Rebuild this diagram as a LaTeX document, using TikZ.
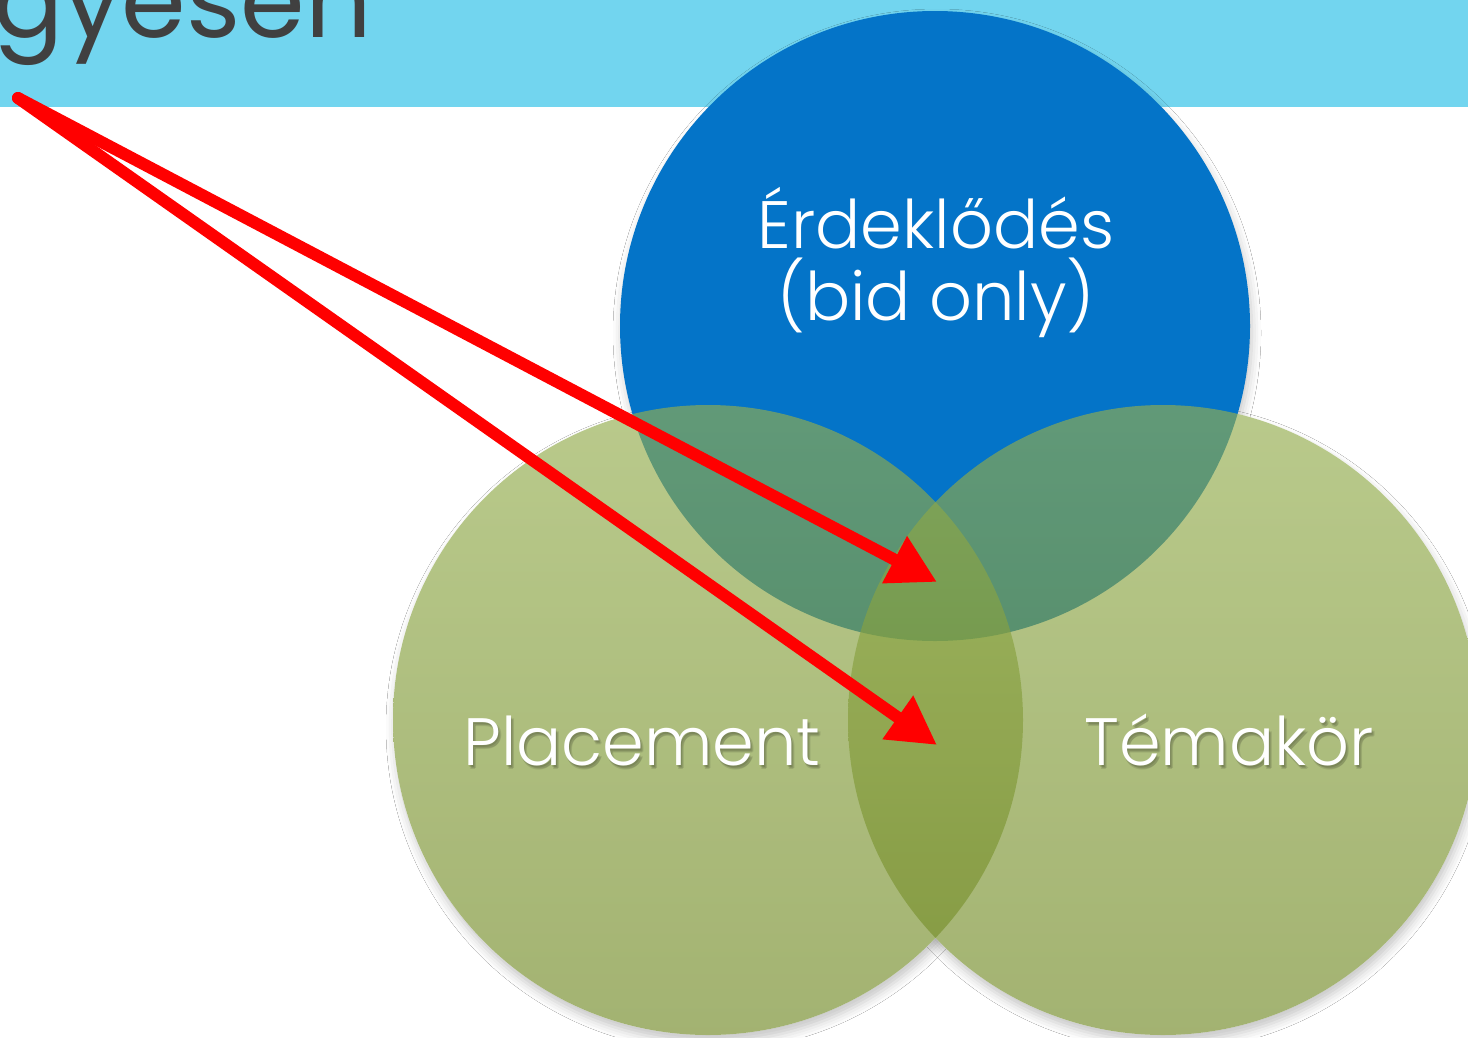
\documentclass[tikz,border=0pt]{standalone}
\usepackage{fontspec}
\setmainfont{Poppins}[UprightFont=* Light]
\newfontfamily\headfont{Poppins}
\usetikzlibrary{arrows.meta,shadows.blur,calc}

\definecolor{band}{RGB}{114,213,239}
\definecolor{headgray}{RGB}{64,64,64}
\definecolor{bluec}{RGB}{4,116,200}
\definecolor{greentop}{RGB}{148,174,78}
\definecolor{greenbot}{RGB}{114,138,38}
\definecolor{arrowred}{RGB}{255,0,0}

\tikzset{
  discshadow/.style={blur shadow={shadow xshift=2pt,shadow yshift=-7pt,
      shadow blur radius=9pt,shadow opacity=22}},
  greendisc/.style={top color=greentop,bottom color=greenbot,fill opacity=0.65},
  vennlabel/.style={anchor=base,text=white,font=\fontsize{67}{77}\selectfont,
      align=center,inner sep=0pt},
  labelshadow/.style={vennlabel,text=black,text opacity=0.1},
  pointer/.style={draw=arrowred,line width=12pt,line cap=round,
      -{Triangle[length=48pt,width=50pt]}}
}

\begin{document}
\begin{tikzpicture}[x=1pt,y=-1pt]
  \clip (0,0) rectangle (1468,1037);
  \fill[white] (0,0) rectangle (1468,1037);

  % title band
  \fill[band] (0,0) rectangle (1468,107);
  \node[anchor=base east,text=headgray,inner sep=0pt,
        font=\headfont\fontsize{104}{114}\selectfont] (heading) at (372,37) {gyesen};

  % circle centres
  \coordinate (cTop)   at (935,326);
  \coordinate (cLeft)  at (708,720);
  \coordinate (cRight) at (1163,720);

  % soft shadows, then white discs so they only show outside the circles
  \path[discshadow] (cTop) circle[radius=315];
  \path[discshadow] (cLeft) circle[radius=315];
  \path[discshadow] (cRight) circle[radius=315];
  \fill[white] (cLeft) circle[radius=315];
  \fill[white] (cRight) circle[radius=315];

  % the three discs
  \fill[bluec] (cTop) circle[radius=315];
  \path[greendisc] (cLeft) circle[radius=315];
  \path[greendisc] (cRight) circle[radius=315];

  % labels, the lower two with a soft shadow
  \node[vennlabel] (interest) at (936,248) {Érdeklődés};
  \node[vennlabel] (bidonly) at (936,320) {(bid only)};
  \foreach \dx/\dy in {1/2,2/4,3/3}{
    \node[labelshadow] at ($(642,765)+(\dx,\dy)$) {Placement};
    \node[labelshadow] at ($(1229,765)+(\dx,\dy)$) {Témakör};
  }
  \node[vennlabel] (placement) at (642,765) {Placement};
  \node[vennlabel] (topic) at (1229,765) {Témakör};

  % pointers
  \coordinate (src)  at (18,98);
  \coordinate (tipA) at (937,582);
  \coordinate (tipB) at (937,745);
  \draw[pointer] (src) -- (tipA);
  \draw[pointer] (src) -- (tipB);
\end{tikzpicture}
\end{document}
